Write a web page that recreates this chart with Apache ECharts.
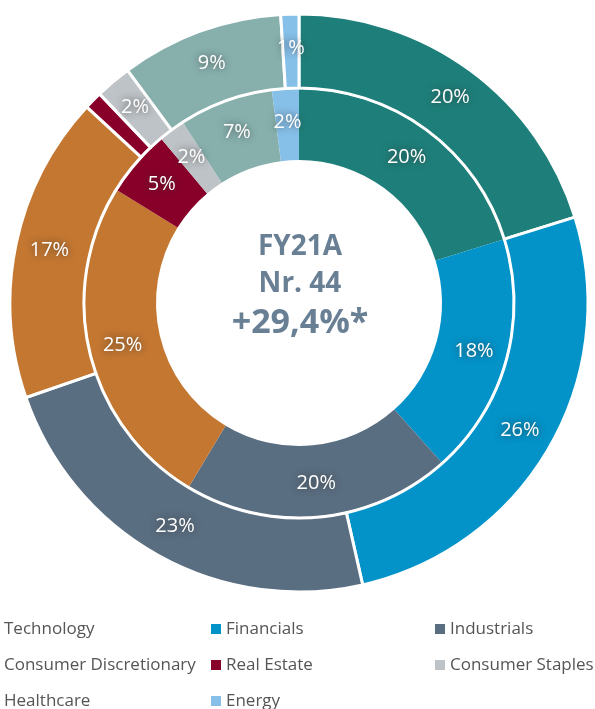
<!DOCTYPE html>
<html>
<head>
<meta charset="utf-8">
<script src="https://cdn.jsdelivr.net/npm/echarts@6/dist/echarts.min.js"></script>
<style>
html,body{margin:0;padding:0;background:#fff;}
#chart{width:595px;height:709px;}
</style>
</head>
<body>
<div id="chart"></div>
<script>
const categories = ['Technology', 'Financials', 'Industrials', 'Consumer Discretionary', 'Real Estate', 'Consumer Staples', 'Healthcare', 'Energy'];
const outerValues = [20, 26, 23, 17, 1, 2, 9, 1];
const innerValues = [20, 18, 20, 25, 5, 2, 7, 2];
const colors = ['#1E7F7A', '#0393C9', '#5A6E81', '#C47731', '#88002A', '#BEC3C7', '#87B0AD', '#86BFE8'];
const centerLines = ['FY21A', 'Nr. 44', '+29,4%*'];
const legendCol1 = ['Technology', 'Consumer Discretionary', 'Healthcare'];
const legendCol2 = ['Financials', 'Real Estate', 'Energy'];
const legendCol3 = ['Industrials', 'Consumer Staples'];

const chart = echarts.init(document.getElementById('chart'), null, {renderer: 'canvas'});

const labelStyle = {
  show: true,
  position: 'inside',
  formatter: '{c}%',
  color: '#ffffff',
  fontFamily: '"Open Sans", sans-serif',
  fontSize: 20,
  textShadowColor: 'rgba(50,50,50,0.8)',
  textShadowBlur: 7
};

function mk(values) {
  return categories.map((n, i) => ({name: n, value: values[i], itemStyle: {color: colors[i]}}));
}

const legendBase = {
  orient: 'vertical',
  itemWidth: 10,
  itemHeight: 10,
  itemGap: 18,
  icon: 'rect',
  selectedMode: false,
  height: 120,
  textStyle: {fontFamily: '"Open Sans", sans-serif', fontSize: 17, color: '#555555', lineHeight: 18},
  padding: 0
};

chart.setOption({
  animation: false,
  color: colors,
  legend: [
    Object.assign({}, legendBase, {data: legendCol1, left: -11, top: 620, itemStyle: {opacity: 0}}),
    Object.assign({}, legendBase, {data: legendCol2, left: 211, top: 620}),
    Object.assign({}, legendBase, {data: legendCol3, left: 435, top: 620})
  ],
  series: [
    {
      type: 'pie',
      name: 'inner',
      center: [299, 303],
      radius: [143, 214],
      startAngle: 90,
      clockwise: true,
      avoidLabelOverlap: false,
      label: labelStyle,
      labelLine: {show: false},
      emphasis: {disabled: true},
      itemStyle: {borderWidth: 0},
      data: mk(innerValues)
    },
    {
      type: 'pie',
      name: 'outer',
      center: [299, 303],
      radius: [215, 289],
      startAngle: 90,
      clockwise: true,
      avoidLabelOverlap: false,
      label: labelStyle,
      labelLine: {show: false},
      emphasis: {disabled: true},
      itemStyle: {borderColor: '#ffffff', borderWidth: 3},
      data: mk(outerValues)
    }
  ],
  graphic: [
    {type: 'text', x: 300, y: 247, style: {text: centerLines[0], font: 'bold 28px "Open Sans", sans-serif', fill: '#687F94', textAlign: 'center', textVerticalAlign: 'middle'}},
    {type: 'text', x: 300, y: 284, style: {text: centerLines[1], font: 'bold 28px "Open Sans", sans-serif', fill: '#687F94', textAlign: 'center', textVerticalAlign: 'middle'}},
    {type: 'text', x: 300, y: 323, style: {text: centerLines[2], font: 'bold 34px "Open Sans", sans-serif', fill: '#687F94', textAlign: 'center', textVerticalAlign: 'middle'}}
  ]
});
</script>
</body>
</html>
